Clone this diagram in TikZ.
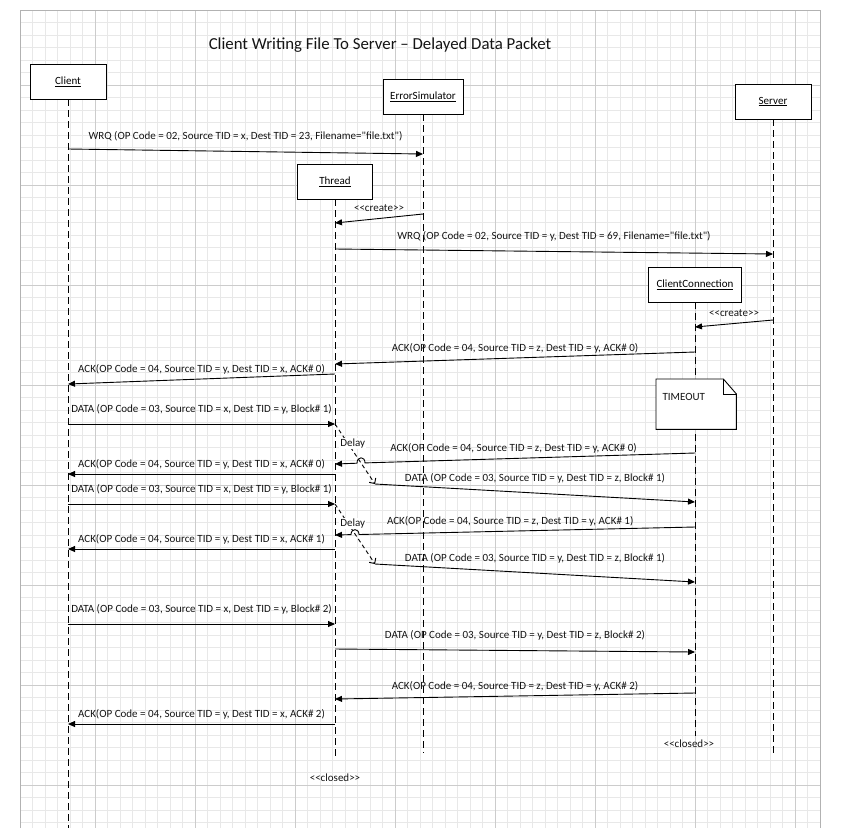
\documentclass[tikz,border=0pt]{standalone}
\usepackage{fontspec}
\setmainfont{Carlito}[Ligatures=TeXOff]
\usepackage{xcolor}
\usepackage{tikz}
\usetikzlibrary{arrows.meta,positioning,calc}

\begin{document}
\begin{tikzpicture}[
  x=1pt, y=-1pt,
  font=\fontsize{11}{13}\selectfont,
  obj/.style={rectangle, draw, fill=white, minimum height=35pt, line width=0.9pt},
  life/.style={dash pattern=on 7pt off 4pt, line width=0.9pt},
  msg/.style={-{Triangle[length=7pt, width=6pt]}, line width=0.9pt},
  delay/.style={dash pattern=on 4pt off 3pt, -{Straight Barb[length=4pt, width=8pt]}, line width=0.9pt},
  ackl/.style={midway, yshift=10pt, text=black!92},
  datl/.style={midway, yshift=15pt, text=black!92},
  minorgrid/.style={draw=black!9, line width=0.5pt},
  majorgrid/.style={draw=black!20, line width=0.6pt}
]
\useasboundingbox (0,0) rectangle (842,828);

% Background grid
\foreach \gx in {0,...,64} \draw[minorgrid] ({20+12.5*\gx},10) -- ({20+12.5*\gx},828);
\foreach \gy in {0,...,65} \draw[minorgrid] (20,{10+12.5*\gy}) -- (820,{10+12.5*\gy});
\foreach \gx in {95,195,...,795} \draw[majorgrid] (\gx,10) -- (\gx,828);
\foreach \gy in {85,185,...,785} \draw[majorgrid] (20,\gy) -- (820,\gy);
\draw[black!30, line width=0.6pt] (20,828) -- (20,10) -- (820,10) -- (820,828);

% Title
\node[font=\fontsize{16.8}{19}\selectfont, text=black!92] (title) at (380,45) {Client Writing File To Server – Delayed Data Packet};

% Objects
\node[obj, minimum width=76pt] (client) at (68,81.5) {\underline{Client}};
\node[obj, minimum width=80pt] (err_sim) at (423,96.5) {\underline{ErrorSimulator}};
\node[obj, minimum width=76pt] (server) at (773,101.5) {\underline{Server}};
\node[obj, minimum width=75pt] (thread) at (335,181.5) {\underline{Thread}};
\node[obj, minimum width=93pt] (client_conn) at (695,284.5) {\underline{ClientConnection}};

% Lifelines
\draw[life] (client.south) -- (client |- 0,828);
\draw[life] (err_sim.south) -- (err_sim |- 0,753);
\draw[life] (thread.south) -- (thread |- 0,756);
\draw[life] (client_conn.south) -- (client_conn |- 0,736);
\draw[life] (server.south) -- (server |- 0,757);

% Timeout note
\node[minimum width=80pt, minimum height=50pt, inner sep=0pt, anchor=north west] (timeout) at (656,379) {};
\draw[fill=white, line width=0.9pt] (timeout.north west) -- ([xshift=-13pt]timeout.north east) -- ([yshift=-15pt]timeout.north east) -- (timeout.south east) -- (timeout.south west) -- cycle;
\draw[line width=0.9pt] ([xshift=-13pt]timeout.north east) |- ([yshift=-15pt]timeout.north east);
\node[anchor=west, text=black!92] (timeout_txt) at ([xshift=3pt, yshift=-18pt]timeout.north west) {TIMEOUT};

% Request and thread creation
\draw[msg] (client |- 0,149) -- (err_sim |- 0,154) node[datl] {WRQ (OP Code = 02, Source TID = x, Dest TID = 23, Filename="file.txt")};
\draw[msg] (err_sim |- 0,214) -- (thread |- 0,223) node[ackl] {<<create>>};
\draw[msg] (thread |- 0,249) -- (server |- 0,254) node[datl] {WRQ (OP Code = 02, Source TID = y, Dest TID = 69, Filename="file.txt")};
\draw[msg] (server |- 0,320) -- (client_conn |- 0,327) node[ackl] {<<create>>};

% First ACK
\draw[msg] (client_conn |- 0,352) -- (thread |- 0,364) node[ackl] {ACK(OP Code = 04, Source TID = z, Dest TID = y, ACK\# 0)};
\draw[msg] (thread |- 0,374) -- (client |- 0,384) node[ackl] {ACK(OP Code = 04, Source TID = y, Dest TID = x, ACK\# 0)};

% Block 1, delayed
\coordinate (delay1) at (375,484);
\draw[msg] (client |- 0,424) -- (thread |- 0,424) node[datl] {DATA (OP Code = 03, Source TID = x, Dest TID = y, Block\# 1)};
\draw[delay] (thread |- 0,424) -- node[pos=.32, xshift=5pt, fill=white, inner sep=1pt, text=black!92] {Delay} (delay1);
\draw[msg] (client_conn |- 0,453) -- node[ackl, pos=.55] {ACK(OP Code = 04, Source TID = z, Dest TID = y, ACK\# 0)} (365,462.9)
  .. controls (365,456) and (357,456) .. (357,463.2) -- (thread |- 0,464);
\draw[msg] (thread |- 0,474) -- (client |- 0,474) node[ackl] {ACK(OP Code = 04, Source TID = y, Dest TID = x, ACK\# 0)};
\draw[msg] (delay1) -- (client_conn |- 0,502) node[datl] {DATA (OP Code = 03, Source TID = y, Dest TID = z, Block\# 1)};

% Block 1 resent, delayed
\coordinate (delay2) at (375,564);
\draw[msg] (client |- 0,504) -- (thread |- 0,504) node[datl] {DATA (OP Code = 03, Source TID = x, Dest TID = y, Block\# 1)};
\draw[delay] (thread |- 0,504) -- node[pos=.32, xshift=5pt, fill=white, inner sep=1pt, text=black!92] {Delay} (delay2);
\draw[msg] (client_conn |- 0,527) -- node[ackl, pos=.55] {ACK(OP Code = 04, Source TID = z, Dest TID = y, ACK\# 1)} (359,534.5)
  .. controls (359,528) and (351,528) .. (351,534.6) -- (thread |- 0,535);
\draw[msg] (thread |- 0,549) -- (client |- 0,549) node[ackl] {ACK(OP Code = 04, Source TID = y, Dest TID = x, ACK\# 1)};
\draw[msg] (delay2) -- (client_conn |- 0,582) node[datl] {DATA (OP Code = 03, Source TID = y, Dest TID = z, Block\# 1)};

% Block 2
\draw[msg] (client |- 0,624) -- (thread |- 0,624) node[datl] {DATA (OP Code = 03, Source TID = x, Dest TID = y, Block\# 2)};
\draw[msg] (thread |- 0,649) -- (client_conn |- 0,652) node[datl] {DATA (OP Code = 03, Source TID = y, Dest TID = z, Block\# 2)};
\draw[msg] (client_conn |- 0,693) -- (thread |- 0,699) node[ackl] {ACK(OP Code = 04, Source TID = z, Dest TID = y, ACK\# 2)};
\draw[msg] (thread |- 0,724) -- (client |- 0,724) node[ackl] {ACK(OP Code = 04, Source TID = y, Dest TID = x, ACK\# 2)};

% End of connections
\node[text=black!92] (thread_end) at (335,778) {<<closed>>};
\node[text=black!92] (conn_end) at (689,744) {<<closed>>};

\end{tikzpicture}
\end{document}
